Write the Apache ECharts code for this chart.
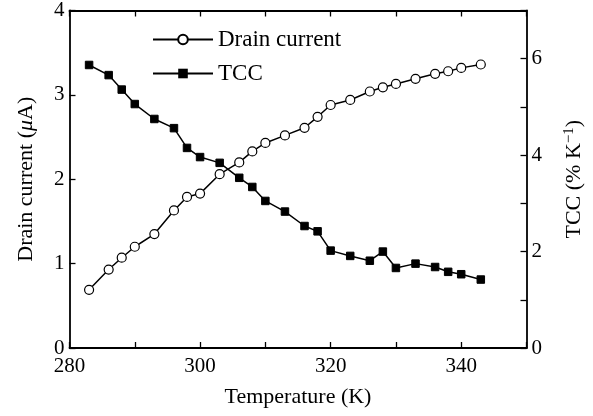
<!DOCTYPE html>
<html>
<head>
<meta charset="utf-8">
<script src="https://cdn.jsdelivr.net/npm/echarts@6/dist/echarts.min.js"></script>
<style>
html,body{margin:0;padding:0;background:#fff;}
#chart{width:593px;height:416px;}
</style>
</head>
<body>
<div id="chart"></div>
<script>
// Data
const temperature = [283,286,288,290,293,296,298,300,303,306,308,310,313,316,318,320,323,326,328,330,333,336,338,340,343];
const drainCurrent = [0.69,0.93,1.07,1.20,1.35,1.63,1.79,1.83,2.06,2.20,2.33,2.43,2.52,2.61,2.74,2.88,2.94,3.04,3.09,3.13,3.19,3.25,3.28,3.32,3.36];
const tcc = [5.87,5.66,5.36,5.06,4.75,4.56,4.15,3.96,3.84,3.53,3.34,3.05,2.83,2.53,2.42,2.02,1.91,1.81,2.00,1.66,1.75,1.68,1.58,1.53,1.42];
const seriesNames = ['Drain current', 'TCC'];
const xTickLabels = [280, 300, 320, 340];
const leftTickLabels = [0, 1, 2, 3, 4];
const rightTickLabels = [0, 2, 4, 6];

const FONT = "'Liberation Serif', 'DejaVu Serif', serif";
const chart = echarts.init(document.getElementById('chart'), null, {renderer: 'canvas'});

const axisLine = {show: true, onZero: false, lineStyle: {color: '#000', width: 1.8}};
const axisTick = {show: true, inside: true, length: 6, lineStyle: {color: '#000', width: 1.3}};

const option = {
  backgroundColor: '#fff',
  animation: false,
  grid: {left: 69.5, right: 66, top: 6, bottom: 68, containLabel: false},
  legend: {
    orient: 'vertical',
    left: 147,
    top: 23,
    itemWidth: 60,
    itemHeight: 12,
    itemGap: 11,
    textStyle: {fontFamily: FONT, fontSize: 23, color: '#000', lineHeight: 23},
    data: seriesNames
  },
  xAxis: [{
    type: 'value', min: 280, max: 350, interval: 10,
    axisLine: axisLine, axisTick: axisTick, splitLine: {show: false},
    axisLabel: {
      fontFamily: FONT, fontSize: 21, color: '#000', margin: 8,
      formatter: v => xTickLabels.includes(v) ? String(v) : ''
    },
    name: 'Temperature (K)', nameLocation: 'middle', nameGap: 38,
    nameTextStyle: {fontFamily: FONT, fontSize: 22, color: '#000'}
  }, {
    type: 'value', min: 280, max: 350, interval: 10, position: 'top',
    axisLine: axisLine, axisTick: axisTick, splitLine: {show: false},
    axisLabel: {show: false}
  }],
  yAxis: [{
    type: 'value', min: 0, max: 4, interval: 1, position: 'left',
    axisLine: axisLine, axisTick: axisTick, splitLine: {show: false},
    axisLabel: {
      fontFamily: FONT, fontSize: 21, color: '#000', margin: 5,
      formatter: v => leftTickLabels.includes(v) ? String(v) : ''
    },
    name: 'Drain current ({i|μ}A)', nameLocation: 'middle', nameRotate: 90, nameGap: 32,
    nameTextStyle: {
      fontFamily: FONT, fontSize: 22, color: '#000',
      rich: {i: {fontFamily: FONT, fontSize: 22, fontStyle: 'italic', color: '#000'}}
    }
  }, {
    type: 'value', min: 0, max: 7, interval: 1, position: 'right',
    axisLine: axisLine, axisTick: axisTick, splitLine: {show: false},
    axisLabel: {
      fontFamily: FONT, fontSize: 21, color: '#000', margin: 5,
      formatter: v => rightTickLabels.includes(v) ? String(v) : ''
    },
    name: 'TCC (% K{sup|−1})', nameLocation: 'middle', nameRotate: 90, nameGap: 35,
    nameTextStyle: {
      fontFamily: FONT, fontSize: 22, color: '#000',
      rich: {sup: {fontFamily: FONT, fontSize: 15, color: '#000', padding: [0, 0, 10, 0]}}
    }
  }],
  series: [{
    name: seriesNames[0], type: 'line', xAxisIndex: 0, yAxisIndex: 0,
    data: temperature.map((t, i) => [t, drainCurrent[i]]),
    symbol: 'circle', symbolSize: 9,
    lineStyle: {color: '#000', width: 1.5},
    itemStyle: {color: '#fff', borderColor: '#000', borderWidth: 1.2},
    z: 3
  }, {
    name: seriesNames[1], type: 'line', xAxisIndex: 0, yAxisIndex: 1,
    data: temperature.map((t, i) => [t, tcc[i]]),
    symbol: 'rect', symbolSize: 7.5,
    lineStyle: {color: '#000', width: 1.5},
    itemStyle: {color: '#000', borderColor: '#000'},
    z: 2
  }]
};
chart.setOption(option);
</script>
</body>
</html>
